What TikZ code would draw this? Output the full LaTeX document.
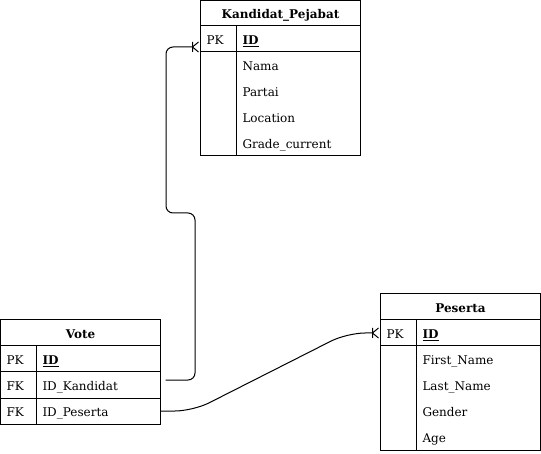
\documentclass[tikz,border=0pt]{standalone}
\usepackage{fontspec}
\setmainfont{DejaVu Serif}
\tikzset{
  onemany/.pic={\draw (-8,-5) -- (-8,5) (-2,-5) -- (-8,0) -- (-2,5);}
}
\begin{document}
\begin{tikzpicture}[x=1pt, y=-1pt, line width=1pt,
    every node/.style={font=\fontsize{12}{14}\selectfont, inner sep=0pt, outer sep=0pt},
    head/.style={draw, minimum width=160pt, minimum height=26pt, anchor=north west,
        text height=11pt, text depth=0pt, font=\fontsize{12}{14}\selectfont\bfseries},
    key/.style={minimum height=26pt, text width=24pt, inner xsep=6pt, align=left,
        text height=11pt, text depth=0pt, anchor=north west},
    field/.style={minimum height=26pt, text width=112pt, inner xsep=6pt, align=left,
        text height=11pt, text depth=0pt, anchor=north west},
    link/.style={rounded corners=7pt}]
    \useasboundingbox (0,0) rectangle (541,454);

    % Kandidat_Pejabat
    \node[head, minimum height=25.5pt] (kp) at (200.5,0.5) {Kandidat\_Pejabat};
    \node[key] (kp-k1) at (kp.south west) {PK};
    \node[field] (kp-f1) at (kp-k1.north east) {\textbf{\underline{ID}}};
    \node[key] (kp-k2) at (kp-k1.south west) {};
    \node[field] (kp-f2) at (kp-k2.north east) {Nama};
    \node[key] (kp-k3) at (kp-k2.south west) {};
    \node[field] (kp-f3) at (kp-k3.north east) {Partai};
    \node[key] (kp-k4) at (kp-k3.south west) {};
    \node[field] (kp-f4) at (kp-k4.north east) {Location};
    \node[key] (kp-k5) at (kp-k4.south west) {};
    \node[field] (kp-f5) at (kp-k5.north east) {Grade\_current};
    \draw (kp-k1.north west) rectangle (kp-f5.south east);
    \draw (kp-k1.south west) -- (kp-f1.south east);
    \draw (kp-k1.north east) -- (kp-k5.south east);

    % Vote
    \node[head] (vo) at (0.5,320) {Vote};
    \node[key] (vo-k1) at (vo.south west) {PK};
    \node[field] (vo-f1) at (vo-k1.north east) {\textbf{\underline{ID}}};
    \node[key] (vo-k2) at (vo-k1.south west) {FK};
    \node[field] (vo-f2) at (vo-k2.north east) {ID\_Kandidat};
    \node[key] (vo-k3) at (vo-k2.south west) {FK};
    \node[field] (vo-f3) at (vo-k3.north east) {ID\_Peserta};
    \draw (vo-k1.north west) rectangle (vo-f3.south east);
    \draw (vo-k1.south west) -- (vo-f1.south east);
    \draw (vo-k2.south west) -- (vo-f2.south east);
    \draw (vo-k1.north east) -- (vo-k3.south east);

    % Peserta
    \node[head] (pe) at (380.5,294) {Peserta};
    \node[key] (pe-k1) at (pe.south west) {PK};
    \node[field] (pe-f1) at (pe-k1.north east) {\textbf{\underline{ID}}};
    \node[key] (pe-k2) at (pe-k1.south west) {};
    \node[field] (pe-f2) at (pe-k2.north east) {First\_Name};
    \node[key] (pe-k3) at (pe-k2.south west) {};
    \node[field] (pe-f3) at (pe-k3.north east) {Last\_Name};
    \node[key] (pe-k4) at (pe-k3.south west) {};
    \node[field] (pe-f4) at (pe-k4.north east) {Gender};
    \node[key] (pe-k5) at (pe-k4.south west) {};
    \node[field] (pe-f5) at (pe-k5.north east) {Age};
    \draw (pe-k1.north west) rectangle (pe-f5.south east);
    \draw (pe-k1.south west) -- (pe-f1.south east);
    \draw (pe-k1.north east) -- (pe-k5.south east);

    % relations
    \coordinate (kpIn) at ([yshift=-8pt]kp-k1.west);
    \coordinate (peIn) at (pe-k1.west);
    \coordinate (voOut) at ([xshift=5pt, yshift=5pt]vo-f2.east);
    \draw[link] (voOut) -| (195,213) -- (166,213) |- ([xshift=-8pt]kpIn);
    \pic at (kpIn) {onemany};
    \draw[rounded corners=18pt] (vo-f3.east) -- (193,411) -- (347,333) -- ([xshift=-8pt]peIn);
    \pic at (peIn) {onemany};
\end{tikzpicture}
\end{document}
